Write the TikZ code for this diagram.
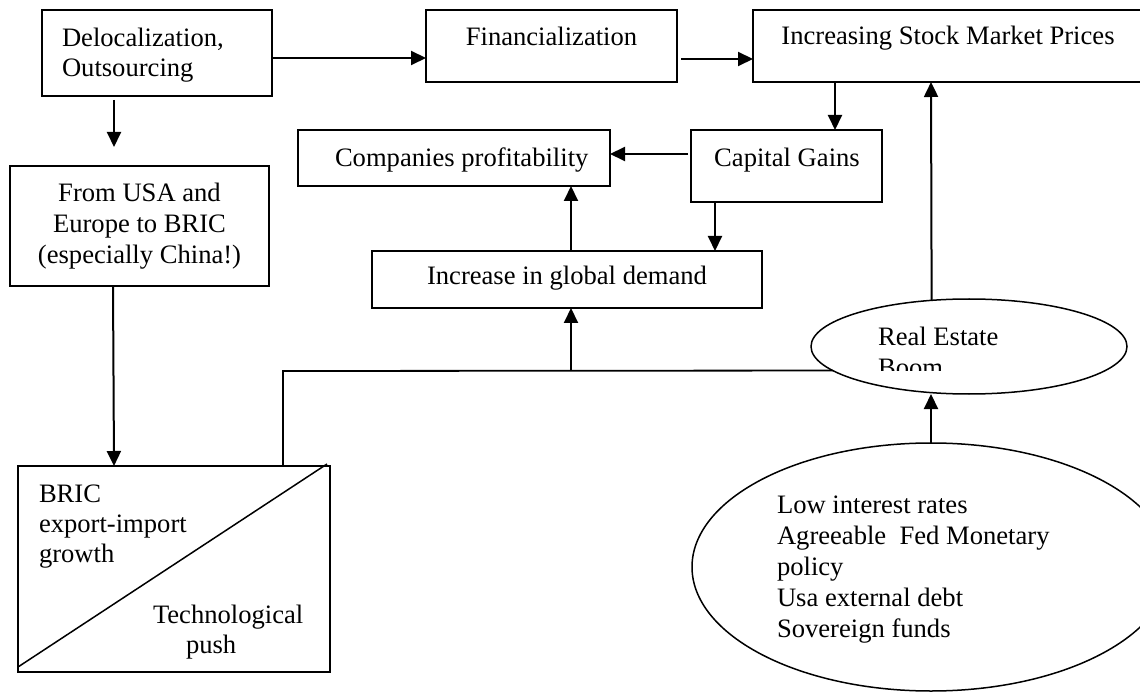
\documentclass[tikz,border=0pt]{standalone}
\usepackage{fontspec}
\setmainfont{Liberation Serif}
\usetikzlibrary{arrows.meta,shapes.geometric}
\begin{document}
\begin{tikzpicture}[x=1pt,y=-1pt,
  box/.style={draw, line width=1.8pt, rectangle, inner sep=0pt, outer sep=0pt, anchor=north west},
  oval/.style={draw, line width=1.5pt, ellipse, inner sep=0pt, outer sep=0pt},
  txt/.style={inner sep=0pt, outer sep=0pt, font=\fontsize{26.6}{30.6}\selectfont},
  lt/.style={txt, anchor=base west},
  ct/.style={txt, anchor=base},
  arr/.style={line width=2pt, -{Triangle[length=15pt,width=14pt]}},
  conn/.style={line width=1.8pt}]
\useasboundingbox (0,0) rectangle (1140,692);
\clip (0,0) rectangle (1140,692);

% boxes
\node[box, minimum width=230pt, minimum height=86pt] (deloc) at (42,10) {};
\node[box, minimum width=251pt, minimum height=72pt] (fin) at (426,10) {};
\node[box, minimum width=390pt, minimum height=72pt] (stock) at (753,10) {};
\node[box, minimum width=191pt, minimum height=72pt] (cg) at (691,130) {};
\node[box, minimum width=312pt, minimum height=56pt] (comp) at (298,130) {};
\node[box, minimum width=390pt, minimum height=57pt] (inc) at (372,251) {};
\node[box, minimum width=259pt, minimum height=120pt] (usa) at (10,166) {};
\node[box, minimum width=312pt, minimum height=206pt] (bric) at (18,466) {};
\node[oval, minimum width=316pt, minimum height=95pt] (re) at (969,346.5) {};
\node[oval, minimum width=478pt, minimum height=248pt] (big) at (931,567) {};

% diagonal of BRIC box
\draw[line width=1.5pt] (bric.south west) ++(0,-5) -- ([xshift=-3pt,yshift=2pt]bric.north east);

% texts
\node[lt] at (62,47) {Delocalization,};
\node[lt] at (62,77) {Outsourcing};
\node[ct] at (551.5,46) {Financialization};
\node[ct] at (948,45) {Increasing Stock Market Prices};
\node[ct] at (787,167) {Capital Gains};
\node[lt] at (335,167) {Companies profitability};
\node[ct] at (567,285) {Increase in global demand};
\node[ct] at (139.5,202) {From USA and};
\node[ct] at (139.5,232.6) {Europe to BRIC};
\node[ct] at (139.5,263.2) {(especially China!)};
\node[lt] at (39,502) {BRIC};
\node[lt] at (39,532) {export-import};
\node[lt] at (39,562) {growth};
\node[lt] at (153,623) {Technological};
\node[lt] at (186,653) {push};
\node[lt] at (878,346) {Real Estate};
\begin{scope}
  \clip (840,340) rectangle (1000,370);
  \node[lt] at (878,377) {Boom};
\end{scope}
\node[lt] at (777,513) {Low interest rates};
\node[lt] at (777,544) {Agreeable\ \ Fed Monetary};
\node[lt] at (777,575) {policy};
\node[lt] at (777,606) {Usa external debt};
\node[lt] at (777,637) {Sovereign funds};

% coordinates
\coordinate (r1) at (0,58);
\coordinate (r2) at (0,59);
\coordinate (r3) at (0,154);
\coordinate (a3s) at (114,100);
\coordinate (a3e) at (114,147);
\coordinate (a4s) at (113,286);
\coordinate (a4e) at (114,466);
\coordinate (c835) at (835,0);
\coordinate (c931) at (931,0);
\coordinate (c715) at (715,0);
\coordinate (c571) at (571,0);
\coordinate (a2s) at (681,59);
\coordinate (a8s) at (688,154);
\coordinate (j1) at (283,371);
\coordinate (j2) at (571,371);

% connectors
\draw[arr] (deloc.east |- r1) -- (fin.west |- r1);
\draw[arr] (a2s) -- (stock.west |- r2);
\draw[arr] (a3s) -- (a3e);
\draw[arr] (a4s) -- (a4e);
\draw[arr] (c835 |- stock.south) -- (c835 |- cg.north);
\draw[arr] (re.129.5) -- (c931 |- stock.south);
\draw[arr] (big.north) -- (big.north |- re.south);
\draw[arr] (a8s) -- (comp.east |- r3);
\draw[arr] (c715 |- cg.south) -- (c715 |- inc.north);
\draw[arr] (c571 |- inc.north) -- (c571 |- comp.south);
\draw[conn] (j1 |- bric.north) -- (j1) -- (re.190.3);
\draw[arr] (j2) -- (j2 |- inc.south);
\end{tikzpicture}
\end{document}
